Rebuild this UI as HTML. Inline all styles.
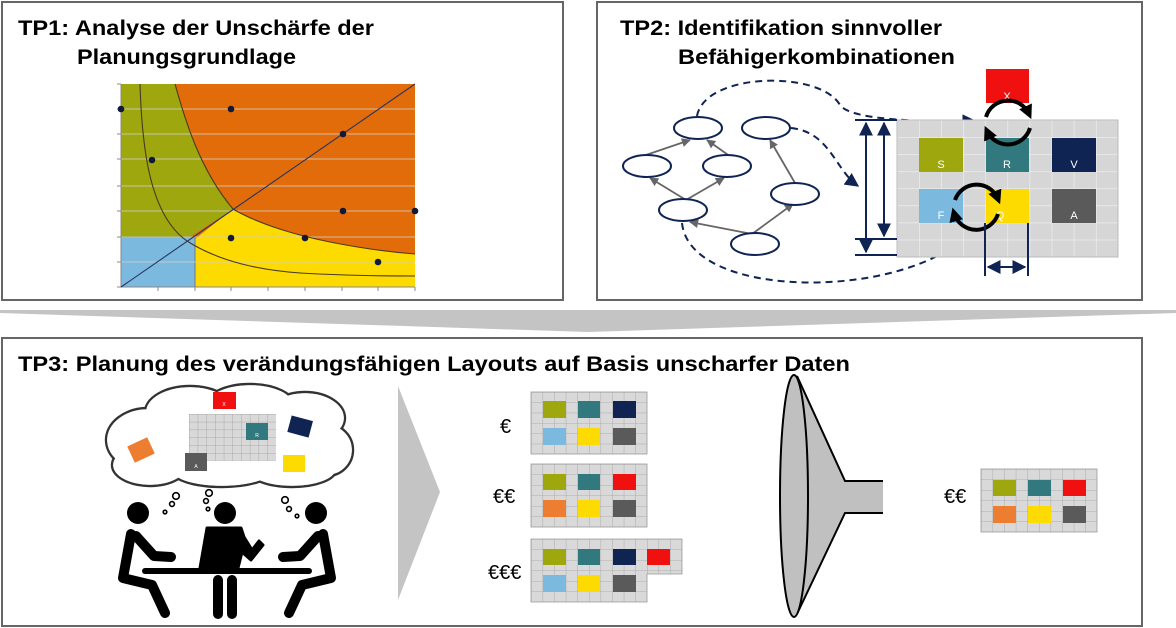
<!DOCTYPE html>
<html><head><meta charset="utf-8"><style>
html,body{margin:0;padding:0;background:#fff;}
svg{display:block;}
text{font-family:"Liberation Sans",Arial,sans-serif;}
</style></head><body>
<svg width="1176" height="628" viewBox="0 0 1176 628" xmlns="http://www.w3.org/2000/svg">
<defs>
<pattern id="g2" x="897" y="120" width="22.1" height="17.1" patternUnits="userSpaceOnUse">
<rect width="22.1" height="17.1" fill="#d6d6d6"/><path d="M0 0H22.1M0 0V17.1" stroke="#f2f2f2" stroke-width="1.2"/></pattern>
<pattern id="gs" x="531" y="392" width="11.6" height="10.35" patternUnits="userSpaceOnUse">
<rect width="11.6" height="10.35" fill="#d9d9d9"/><path d="M0 0H11.6M0 0V10.35" stroke="#a0a0a0" stroke-width="0.8"/></pattern>
<pattern id="gs2" x="531" y="464" width="11.6" height="10.5" patternUnits="userSpaceOnUse">
<rect width="11.6" height="10.5" fill="#d9d9d9"/><path d="M0 0H11.6M0 0V10.5" stroke="#a0a0a0" stroke-width="0.8"/></pattern>
<pattern id="gs3" x="531" y="539" width="11.6" height="10.5" patternUnits="userSpaceOnUse">
<rect width="11.6" height="10.5" fill="#d9d9d9"/><path d="M0 0H11.6M0 0V10.5" stroke="#a0a0a0" stroke-width="0.8"/></pattern>
<pattern id="gs4" x="981" y="469" width="11.6" height="10.5" patternUnits="userSpaceOnUse">
<rect width="11.6" height="10.5" fill="#d9d9d9"/><path d="M0 0H11.6M0 0V10.5" stroke="#a0a0a0" stroke-width="0.8"/></pattern>
<pattern id="gc" x="189" y="414" width="8.7" height="7.8" patternUnits="userSpaceOnUse">
<rect width="8.7" height="7.8" fill="#d9d9d9"/><path d="M0 0H8.7M0 0V7.8" stroke="#999" stroke-width="0.7"/></pattern>
<marker id="an" viewBox="0 0 10 10" refX="9" refY="5" markerWidth="7" markerHeight="7" orient="auto-start-reverse"><path d="M0 0L10 5L0 10z" fill="#0f2453"/></marker>
<marker id="ag" viewBox="0 0 10 10" refX="9" refY="5" markerWidth="5" markerHeight="5" orient="auto"><path d="M0 0L10 5L0 10z" fill="#666"/></marker>
<marker id="ab" viewBox="0 0 10 10" refX="6" refY="5" markerWidth="3.5" markerHeight="3.5" orient="auto"><path d="M0 0L10 5L0 10z" fill="#000"/></marker>
</defs>

<!-- frames -->
<rect x="2" y="2" width="561" height="298" fill="#fff" stroke="#666" stroke-width="2"/>
<rect x="597" y="2" width="545" height="298" fill="#fff" stroke="#666" stroke-width="2"/>
<rect x="2" y="338" width="1140" height="288" fill="#fff" stroke="#666" stroke-width="2"/>
<!-- big chevron -->
<path d="M0 310 L1176 310 L1176 313 L588 332 L0 313 Z" fill="#c4c4c4"/>

<!-- titles -->
<text x="18" y="35" font-size="21" font-weight="bold" textLength="356" lengthAdjust="spacingAndGlyphs">TP1: Analyse der Unschärfe der</text>
<text x="77" y="64" font-size="21" font-weight="bold" textLength="219" lengthAdjust="spacingAndGlyphs">Planungsgrundlage</text>
<text x="620" y="35" font-size="21" font-weight="bold" textLength="322" lengthAdjust="spacingAndGlyphs">TP2: Identifikation sinnvoller</text>
<text x="678" y="64" font-size="21" font-weight="bold" textLength="277" lengthAdjust="spacingAndGlyphs">Befähigerkombinationen</text>
<text x="18" y="371" font-size="21" font-weight="bold" textLength="832" lengthAdjust="spacingAndGlyphs">TP3: Planung des verändungsfähigen Layouts auf Basis unscharfer Daten</text>

<!-- TP1 chart -->
<rect x="121" y="84" width="294" height="203" fill="#e36c0a"/>
<path d="M121 84 L175 84 C185 120 200 170 233 209 L190 237 L121 237 Z" fill="#9ea70e"/>
<path d="M233 209 C260 225 300 236 330 242 C360 248 390 252 415 254 L415 287 L195 287 L195 239 Z" fill="#fedb00"/>
<rect x="121" y="237" width="74" height="50" fill="#7cb9df"/>
<path d="M121 237 H195 V287" fill="none" stroke="#777" stroke-width="1"/>
<g stroke="#cfcfcf" stroke-width="1" opacity="0.8">
<path d="M121 109H415M121 134H415M121 159H415M121 186H415M121 211H415M121 237H415M121 262H415"/></g>
<path d="M121 84V287H415" fill="none" stroke="#888" stroke-width="1"/>
<g stroke="#888" stroke-width="1"><path d="M117 84H121M117 109H121M117 134H121M117 159H121M117 186H121M117 211H121M117 237H121M117 262H121M117 287H121M158 287V291M195 287V291M231 287V291M268 287V291M305 287V291M342 287V291M378 287V291M415 287V291"/></g>
<path d="M175 84 C185 120 200 170 233 209 C260 225 300 236 330 242 C360 248 390 252 415 254" fill="none" stroke="#4a3a20" stroke-width="1.1"/>
<path d="M140 84 C142 150 150 215 187 241 C220 262 260 270 300 273 C350 276 390 276 415 276" fill="none" stroke="#4a3a20" stroke-width="1.1"/>
<path d="M121 287 L415 84" stroke="#2a3560" stroke-width="1.1"/>
<g fill="#0f1a3a"><circle cx="121" cy="109" r="3.3"/><circle cx="231" cy="109" r="3.3"/><circle cx="343" cy="134" r="3.3"/><circle cx="152" cy="160" r="3.3"/><circle cx="343" cy="211" r="3.3"/><circle cx="415" cy="211" r="3.3"/><circle cx="231" cy="238" r="3.3"/><circle cx="305" cy="238" r="3.3"/><circle cx="378" cy="262" r="3.3"/></g>

<!-- TP2 graph -->
<g stroke="#666" stroke-width="1.8" marker-end="url(#ag)">
<line x1="640" y1="157" x2="690" y2="140"/><line x1="731" y1="157" x2="707" y2="140"/>
<line x1="686" y1="200" x2="650" y2="178"/><line x1="686" y1="200" x2="724" y2="178"/>
<line x1="752" y1="234" x2="690" y2="222"/><line x1="752" y1="234" x2="793" y2="204"/>
<line x1="795" y1="183" x2="770" y2="140"/></g>
<g fill="#fff" stroke="#0f2453" stroke-width="2">
<ellipse cx="698" cy="128" rx="24" ry="11"/><ellipse cx="766" cy="128" rx="24" ry="11"/>
<ellipse cx="647" cy="166" rx="24" ry="11"/><ellipse cx="727" cy="166" rx="24" ry="11"/>
<ellipse cx="683" cy="210" rx="24" ry="11"/><ellipse cx="795" cy="194" rx="24" ry="11"/>
<ellipse cx="755" cy="244" rx="24" ry="11"/></g>
<g fill="none" stroke="#0f2453" stroke-width="2" stroke-dasharray="7,5">
<path d="M697 116 C705 72 820 70 840 105 C850 120 920 122 975 121" marker-end="url(#an)"/>
<path d="M791 128 C830 132 835 170 858 186" marker-end="url(#an)"/>
<path d="M682 223 C690 300 900 300 966 236" marker-end="url(#an)"/></g>
<rect x="897" y="120" width="221" height="137" fill="url(#g2)" stroke="#bbb" stroke-width="1"/>
<g font-size="11" fill="#fff" text-anchor="middle">
<rect x="919" y="138" width="44" height="34" fill="#9ea70e"/><text x="941" y="168">S</text>
<rect x="986" y="138" width="43" height="34" fill="#31797e"/><text x="1007" y="168">R</text>
<rect x="1052" y="138" width="44" height="34" fill="#0f2453"/><text x="1074" y="168">V</text>
<rect x="919" y="189" width="44" height="34" fill="#7cb9df"/><text x="941" y="219">F</text>
<rect x="986" y="189" width="43" height="34" fill="#fedb00"/><text x="1000" y="219">Q</text>
<rect x="1052" y="189" width="44" height="34" fill="#5a5a5a"/><text x="1074" y="219">A</text>
<rect x="986" y="69" width="43" height="34" fill="#f01010"/><text x="1007" y="100">X</text></g>
<g fill="none" stroke="#000" stroke-width="4" marker-end="url(#ab)">
<path d="M986 117 A23 23 0 0 1 1029 114"/><path d="M1030 128 A23 23 0 0 1 987 131"/>
<path d="M955 200 A23 23 0 0 1 998 199"/><path d="M998 214 A23 23 0 0 1 954 213"/></g>
<g stroke="#0f2453" stroke-width="2">
<path d="M855 120H897M855 239H897M855 255H897M985 223V276M1028 223V276"/>
<line x1="866" y1="123" x2="866" y2="252" marker-start="url(#an)" marker-end="url(#an)"/>
<line x1="884" y1="123" x2="884" y2="236" marker-start="url(#an)" marker-end="url(#an)"/>
<line x1="988" y1="267" x2="1025" y2="267" marker-start="url(#an)" marker-end="url(#an)"/></g>

<!-- TP3 cloud -->
<g fill="#fff" stroke="#333" stroke-width="2.4">
<ellipse cx="148" cy="440" rx="42" ry="32"/><ellipse cx="190" cy="412" rx="45" ry="26"/><ellipse cx="250" cy="406" rx="45" ry="22"/><ellipse cx="305" cy="418" rx="40" ry="26"/><ellipse cx="327" cy="450" rx="26" ry="26"/><ellipse cx="292" cy="470" rx="44" ry="17"/><ellipse cx="222" cy="471" rx="50" ry="16"/><ellipse cx="150" cy="465" rx="38" ry="21"/></g>
<g fill="#fff">
<ellipse cx="148" cy="440" rx="40.8" ry="30.8"/><ellipse cx="190" cy="412" rx="43.8" ry="24.8"/><ellipse cx="250" cy="406" rx="43.8" ry="20.8"/><ellipse cx="305" cy="418" rx="38.8" ry="24.8"/><ellipse cx="327" cy="450" rx="24.8" ry="24.8"/><ellipse cx="292" cy="470" rx="42.8" ry="15.8"/><ellipse cx="222" cy="471" rx="48.8" ry="14.8"/><ellipse cx="150" cy="465" rx="36.8" ry="19.8"/><ellipse cx="230" cy="440" rx="95" ry="38"/></g>
<rect x="189" y="414" width="87" height="47" fill="url(#gc)"/>
<g font-size="5" fill="#fff" text-anchor="middle">
<rect x="213" y="392" width="23" height="17" fill="#f01010"/><text x="224" y="406">X</text>
<rect x="246" y="423" width="22" height="17" fill="#31797e"/><text x="257" y="437">R</text>
<rect x="289" y="418" width="22" height="17" fill="#0f2453" transform="rotate(15 300 427)"/>
<rect x="130" y="441" width="22" height="18" fill="#ed7d31" transform="rotate(-25 141 450)"/>
<rect x="185" y="453" width="22" height="18" fill="#5a5a5a"/><text x="196" y="468">A</text>
<rect x="283" y="455" width="22" height="17" fill="#fedb00"/></g>
<!-- bubbles -->
<g fill="none" stroke="#000" stroke-width="1.6">
<circle cx="176" cy="496" r="3.3"/><circle cx="172" cy="504" r="2.4"/><circle cx="165" cy="512" r="1.8"/>
<circle cx="209" cy="493" r="3.3"/><circle cx="206" cy="501" r="2.4"/><circle cx="208" cy="509" r="1.8"/>
<circle cx="285" cy="500" r="3.3"/><circle cx="289" cy="509" r="2.4"/><circle cx="297" cy="516" r="1.8"/></g>
<!-- people -->
<g id="lp" fill="none" stroke="#000" stroke-width="10" stroke-linecap="round" stroke-linejoin="round">
<circle cx="138" cy="513" r="11" fill="#000" stroke="none"/>
<path d="M131 534 L123 578 L152 585 L165 613"/>
<path d="M136 536 L154 556 L171 557"/>
</g>
<use href="#lp" transform="translate(454 0) scale(-1 1)"/>
<circle cx="225" cy="513" r="11" fill="#000"/>
<path d="M207 528 H241 L244 537 L252 550 L259 541 L263 545 L251 560 L242 552 L238 568 H200 Z" fill="#000" stroke="#000" stroke-width="3" stroke-linejoin="round"/>
<rect x="213" y="575" width="10" height="44" rx="5" fill="#000"/>
<rect x="227" y="575" width="10" height="44" rx="5" fill="#000"/>
<rect x="142" y="568" width="170" height="6" rx="3" fill="#000"/>

<!-- gray arrow -->
<path d="M398 386 L440 492 L398 600 Z" fill="#c4c4c4"/>

<!-- layout grids -->
<g font-family="Liberation Sans, sans-serif">
<text x="500" y="433" font-size="20">€</text>
<text x="493" y="503" font-size="20">€€</text>
<text x="488" y="579" font-size="20">€€€</text>
<text x="944" y="503" font-size="20">€€</text></g>
<rect x="531" y="392" width="116" height="62" fill="url(#gs)" stroke="#999" stroke-width="0.8"/>
<rect x="531" y="464" width="116" height="63" fill="url(#gs2)" stroke="#999" stroke-width="0.8"/>
<path d="M531 539 H682 V574 H647 V602 H531 Z" fill="url(#gs3)" stroke="#999" stroke-width="0.8"/>
<rect x="981" y="469" width="116" height="63" fill="url(#gs4)" stroke="#999" stroke-width="0.8"/>
<g>
<rect x="543" y="401" width="23" height="17" fill="#9ea70e"/><rect x="578" y="401" width="22" height="17" fill="#31797e"/><rect x="613" y="401" width="23" height="17" fill="#0f2453"/>
<rect x="543" y="428" width="23" height="17" fill="#7cb9df"/><rect x="578" y="428" width="22" height="17" fill="#fedb00"/><rect x="613" y="428" width="23" height="17" fill="#5a5a5a"/>
<rect x="543" y="474" width="23" height="16" fill="#9ea70e"/><rect x="578" y="474" width="22" height="16" fill="#31797e"/><rect x="613" y="474" width="23" height="16" fill="#f01010"/>
<rect x="543" y="500" width="23" height="17" fill="#ed7d31"/><rect x="578" y="500" width="22" height="17" fill="#fedb00"/><rect x="613" y="500" width="23" height="17" fill="#5a5a5a"/>
<rect x="543" y="549" width="23" height="16" fill="#9ea70e"/><rect x="578" y="549" width="22" height="16" fill="#31797e"/><rect x="613" y="549" width="23" height="16" fill="#0f2453"/><rect x="647" y="549" width="23" height="16" fill="#f01010"/>
<rect x="543" y="575" width="23" height="17" fill="#7cb9df"/><rect x="578" y="575" width="22" height="17" fill="#fedb00"/><rect x="613" y="575" width="23" height="17" fill="#5a5a5a"/>
<rect x="993" y="480" width="23" height="16" fill="#9ea70e"/><rect x="1028" y="480" width="23" height="16" fill="#31797e"/><rect x="1063" y="480" width="23" height="16" fill="#f01010"/>
<rect x="993" y="506" width="23" height="17" fill="#ed7d31"/><rect x="1028" y="506" width="23" height="17" fill="#fedb00"/><rect x="1063" y="506" width="23" height="17" fill="#5a5a5a"/>
</g>

<!-- funnel -->
<path d="M797 376 L845 481 H883 V513 H845 L797 614 Z" fill="#c0c0c0"/>
<path d="M797 376 L845 481 H883 M883 513 H845 L797 614" fill="none" stroke="#000" stroke-width="2"/>
<ellipse cx="794" cy="496" rx="14" ry="121" fill="#c0c0c0" stroke="#000" stroke-width="2"/>
</svg>
</body></html>
